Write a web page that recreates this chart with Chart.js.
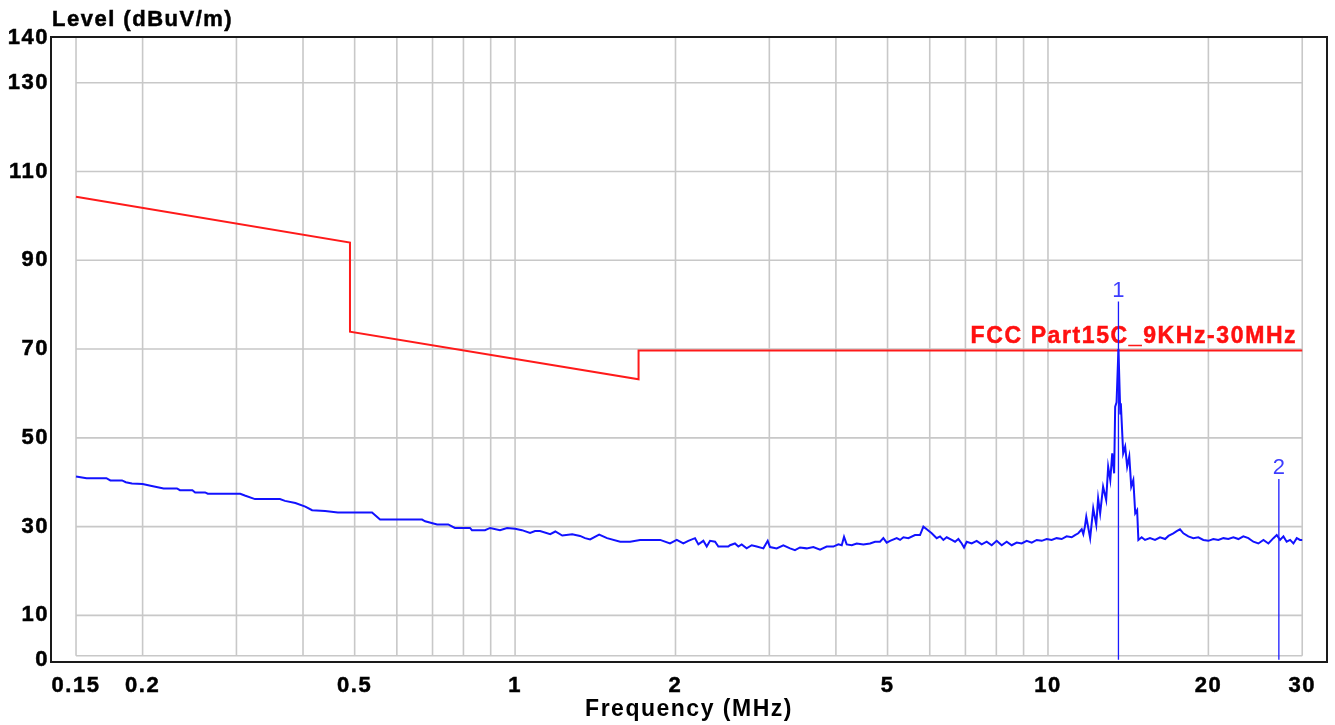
<!DOCTYPE html>
<html><head><meta charset="utf-8">
<style>html,body{margin:0;padding:0;background:#fff;} #wrap{width:1335px;height:725px;position:relative;}</style>
<script src="https://cdn.jsdelivr.net/npm/chart.js@4.4.1/dist/chart.umd.min.js"></script>
</head><body><div id="wrap"><canvas id="c"></canvas></div>
<script>
const Y_TITLE = 'Level (dBuV/m)';
const X_TITLE = 'Frequency (MHz)';
const LIMIT_NAME = 'FCC Part15C_9KHz-30MHz';
const X_TICKS = [0.15, 0.2, 0.5, 1, 2, 5, 10, 20, 30];
const Y_TICKS = [0, 10, 30, 50, 70, 90, 110, 130, 140];
const X_GRID = [0.15, 0.2, 0.3, 0.4, 0.5, 0.6, 0.7, 0.8, 0.9, 1, 2, 3, 4, 5, 6, 7, 8, 9, 10, 20, 30];
const Y_GRID = [10, 30, 50, 70, 90, 110, 130];
const LIMIT_FREQ = [0.15, 0.49, 0.49, 1.705, 1.705, 30];
const LIMIT_LEVEL = [104.3, 94.0, 73.9, 63.2, 69.7, 69.7];
const TRACE_FREQ = [
 0.150,0.157,0.171,0.174,0.183,0.186,0.191,0.200,0.207,0.219,0.232,0.235,0.248,0.251,0.262,0.265,0.305,0.311,0.325,0.362,
 0.370,0.387,0.404,0.416,0.440,0.465,0.539,0.558,0.669,0.678,0.714,0.749,0.771,0.823,0.830,0.878,0.898,0.937,0.966,1.000,
 1.030,1.067,1.090,1.114,1.164,1.190,1.226,1.280,1.324,1.353,1.383,1.438,1.488,1.575,1.644,1.716,1.872,
 1.953,2.011,2.069,2.114,2.176,2.208,2.256,2.289,2.322,2.373,2.407,2.513,2.531,2.586,2.624,2.662,2.720,2.780,2.841,2.924,
 2.979,3.009,3.097,3.187,3.281,3.352,3.425,3.525,3.628,3.735,3.844,3.957,4.043,4.102,4.143,4.191,4.283,4.376,4.504,4.636,
 4.737,4.840,4.910,4.982,5.054,5.202,5.278,5.355,5.470,5.630,
 5.753,5.837,5.922,6.051,6.183,6.273,6.364,6.456,6.597,6.693,6.790,6.889,6.958,7.039,7.192,7.349,7.510,7.674,7.841,8.013,
 8.188,8.367,8.550,8.737,8.927,9.122,9.322,9.525,9.733,9.945,10.16,10.38,10.61,10.84,11.08,11.24,11.40,11.57,11.65,11.73,
 11.80,12.00,12.16,12.32,12.42,12.53,12.69,12.86,12.97,13.09,13.20,13.31,13.37,13.45,13.56,13.67,13.70,13.84,13.96,14.08,
 14.21,14.33,14.46,14.58,14.70,
 14.78,14.99,15.21,15.54,15.88,16.23,16.59,16.83,17.19,17.44,17.69,17.95,18.34,18.74,19.15,19.57,20.00,20.43,20.88,21.34,
 21.80,22.28,22.77,23.26,23.77,24.29,24.82,25.37,25.92,26.49,26.87,27.26,27.66,28.05,28.47,28.88,29.30,29.72,30.00
];
const TRACE_LEVEL = [
 41.3,40.9,40.9,40.4,40.4,40.0,39.7,39.6,39.2,38.6,38.6,38.2,38.2,37.7,37.7,37.4,37.4,37.0,36.2,36.2,
 35.8,35.3,34.5,33.7,33.5,33.2,33.2,31.6,31.6,31.2,30.5,30.5,29.7,29.7,29.2,29.2,29.7,29.2,29.7,29.5,
 29.2,28.6,29.0,29.0,28.3,28.9,28.0,28.3,27.9,27.4,27.1,28.2,27.4,26.6,26.6,27.0,27.0,
 26.2,27.0,26.2,26.8,27.4,26.0,26.8,25.5,26.8,26.6,25.5,25.5,25.8,26.2,25.5,26.0,25.1,25.8,25.5,25.1,
 26.8,25.4,25.1,25.8,25.1,24.7,25.3,25.1,25.4,24.8,25.5,25.5,26.0,25.8,27.7,26.0,25.8,26.2,26.0,26.2,
 26.6,26.6,27.4,26.4,26.8,27.4,27.0,27.6,27.4,28.1,
 28.1,30.0,29.4,28.5,27.4,27.8,27.0,27.6,27.0,26.6,27.2,26.2,25.3,26.6,26.2,26.8,26.0,26.6,25.8,26.8,
 25.8,26.6,25.8,26.4,26.2,26.8,26.4,27.0,26.8,27.2,27.0,27.4,27.2,27.8,27.6,28.1,28.5,29.4,28.3,30.0,
 32.2,27.4,34.1,30.4,36.4,33.0,39.0,36.0,43.5,40.5,46.5,42.0,57.0,58.0,70.0,55.5,57.8,46.5,48.0,43.5,
 45.8,39.0,40.5,33.0,33.7,
 27.0,27.6,27.0,27.4,27.0,27.6,27.2,27.9,28.5,29.0,29.4,28.5,27.8,27.4,27.6,27.0,26.8,27.2,27.0,27.4,
 27.2,27.6,27.2,27.8,27.4,26.6,26.2,27.0,26.2,27.4,28.1,27.0,27.8,26.6,27.0,26.2,27.4,27.0,27.0
];
const MARKER_FREQ = [13.56, 27.12];
const MARKER_LEVEL = [80.7, 40.7];
const MARKER_LABEL = ['1', '2'];

const FONT_FAMILY = '"Liberation Sans", Arial, sans-serif';
const pts = (xs, ys) => xs.map((v, i) => ({ x: v, y: ys[i] }));

const spacingPlugin = {
  id: 'spacing',
  beforeDraw(chart) { chart.ctx.letterSpacing = '1.5px'; }
};

function boldText(ctx, text, x, y, color) {
  ctx.fillStyle = color;
  ctx.strokeStyle = color;
  ctx.lineWidth = 0.5;
  ctx.fillText(text, x, y);
  ctx.strokeText(text, x, y);
}

const gridPlugin = {
  id: 'gridbox',
  beforeDatasetsDraw(chart) {
    const { ctx, scales: { x, y }, chartArea } = chart;
    const x0 = x.getPixelForValue(X_GRID[0]);
    const x1 = x.getPixelForValue(X_GRID[X_GRID.length - 1]);
    const yb = y.getPixelForValue(0) - 4;
    const yt = chartArea.top;
    ctx.save();
    ctx.strokeStyle = '#c8c8c8';
    ctx.lineWidth = 1.6;
    ctx.beginPath();
    X_GRID.forEach(v => { const px = x.getPixelForValue(v); ctx.moveTo(px, yt); ctx.lineTo(px, yb); });
    Y_GRID.forEach(v => { const py = y.getPixelForValue(v); ctx.moveTo(x0, py); ctx.lineTo(x1, py); });
    ctx.moveTo(x0, yb); ctx.lineTo(x1, yb);
    ctx.stroke();
    ctx.font = 'bold 23px ' + FONT_FAMILY;
    ctx.letterSpacing = '1.6px';
    ctx.textAlign = 'right';
    ctx.textBaseline = 'alphabetic';
    boldText(ctx, LIMIT_NAME, x.getPixelForValue(LIMIT_FREQ[LIMIT_FREQ.length - 1]) - 5,
             y.getPixelForValue(LIMIT_LEVEL[LIMIT_LEVEL.length - 1]) - 7, '#ff1010');
    ctx.restore();
  },
  afterDatasetsDraw(chart) {
    const { ctx, scales: { x, y }, chartArea } = chart;
    ctx.save();
    ctx.font = '22px ' + FONT_FAMILY;
    ctx.letterSpacing = '0px';
    ctx.fillStyle = '#3d3dff';
    ctx.textAlign = 'center';
    ctx.textBaseline = 'alphabetic';
    MARKER_FREQ.forEach((f, i) => {
      ctx.fillText(MARKER_LABEL[i], x.getPixelForValue(f), y.getPixelForValue(MARKER_LEVEL[i]) - 5);
    });
    ctx.strokeStyle = '#1a1a1a';
    ctx.lineWidth = 2;
    ctx.strokeRect(chartArea.left, chartArea.top, chartArea.right - chartArea.left, chartArea.bottom - chartArea.top);
    ctx.font = 'bold 22px ' + FONT_FAMILY;
    ctx.letterSpacing = '1.5px';
    ctx.textAlign = 'left';
    boldText(ctx, Y_TITLE, chartArea.left + 1, chartArea.top - 11, '#000');
    ctx.restore();
  }
};

new Chart(document.getElementById('c'), {
  type: 'scatter',
  data: {
    datasets: [
      { data: pts([MARKER_FREQ[0], MARKER_FREQ[0]], [0, MARKER_LEVEL[0]]), showLine: true, borderColor: '#1a1aff', borderWidth: 1.3, pointRadius: 0 },
      { data: pts([MARKER_FREQ[1], MARKER_FREQ[1]], [0, MARKER_LEVEL[1]]), showLine: true, borderColor: '#1a1aff', borderWidth: 1.3, pointRadius: 0 },
      { data: pts(TRACE_FREQ, TRACE_LEVEL), showLine: true, borderColor: '#1212ff', borderWidth: 2, pointRadius: 0, tension: 0 },
      { data: pts(LIMIT_FREQ, LIMIT_LEVEL), showLine: true, borderColor: '#ff1a1a', borderWidth: 2, pointRadius: 0, tension: 0 }
    ]
  },
  options: {
    responsive: true,
    maintainAspectRatio: false,
    animation: false,
    events: [],
    layout: { padding: { top: 37, right: 8, left: 0, bottom: 0 } },
    plugins: { legend: { display: false }, tooltip: { enabled: false }, title: { display: false } },
    scales: {
      x: {
        type: 'logarithmic',
        min: 0.13463, max: 33.39,
        afterBuildTicks: s => { s.ticks = X_TICKS.map(v => ({ value: v })); },
        afterFit: s => { s.height = 63; },
        grid: { display: false, drawTicks: false },
        border: { display: false },
        ticks: {
          autoSkip: false, maxRotation: 0, padding: 11, color: '#000',
          textStrokeColor: '#000', textStrokeWidth: 0.5,
          font: { family: FONT_FAMILY, size: 22, weight: 'bold' },
          callback: v => String(v)
        },
        title: {
          display: true, text: X_TITLE, color: '#000',
          font: { family: FONT_FAMILY, size: 23, weight: 'bold' },
          padding: { top: 0, bottom: 2 }
        }
      },
      y: {
        type: 'linear',
        min: -0.5, max: 140.3,
        afterBuildTicks: s => { s.ticks = Y_TICKS.map(v => ({ value: v })); },
        afterFit: s => { s.width = 51; },
        grid: { display: false, drawTicks: false },
        border: { display: false },
        ticks: {
          padding: 2, color: '#000',
          textStrokeColor: '#000', textStrokeWidth: 0.5,
          font: { family: FONT_FAMILY, size: 22, weight: 'bold' }
        }
      }
    }
  },
  plugins: [spacingPlugin, gridPlugin]
});
</script>
</body></html>
